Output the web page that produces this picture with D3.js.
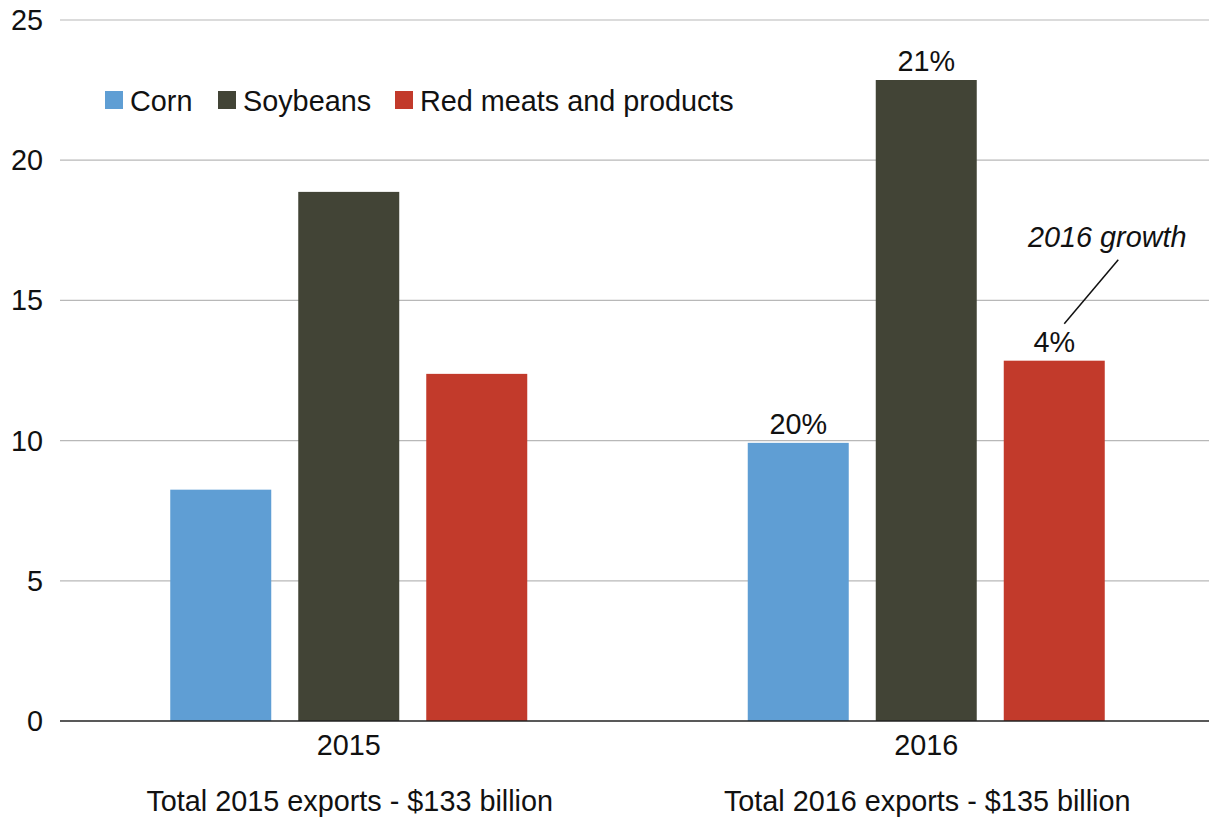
<!DOCTYPE html>
<html><head><meta charset="utf-8">
<script src="https://cdn.jsdelivr.net/npm/d3@7"></script>
<style>body{margin:0;background:#fff}svg{display:block;font-family:"Liberation Sans",Arial,sans-serif}</style>
</head><body><svg id="c" width="1209" height="821"></svg>
<script>
const years = ["2015", "2016"];
const series = ["Corn", "Soybeans", "Red meats and products"];
const corn = [8.25, 9.92];
const soybeans = [18.87, 22.86];
const redMeats = [12.38, 12.85];
const growth2016 = ["20%", "21%", "4%"];
const totals = ["Total 2015 exports - $133 billion", "Total 2016 exports - $135 billion"];
const yTicks = [0, 5, 10, 15, 20, 25];
const colors = ["#5f9ed4", "#424436", "#c23a2b"];

const values = [corn, soybeans, redMeats];
const FS = 28.8;
const svg = d3.select("#c");
const y = d3.scaleLinear().domain([0, 25]).range([721, 20]);
const x0 = d3.scaleBand().domain(years).range([60, 1215]).padding(0);
const x1 = d3.scaleBand().domain(series).range([-178.5, 178.5]).paddingInner(0.211).paddingOuter(0);

// grid
svg.append("g").selectAll("line").data(yTicks.filter(d => d > 0)).join("line")
  .attr("x1", 60).attr("x2", 1209).attr("y1", d => y(d)).attr("y2", d => y(d))
  .attr("stroke", "#b8b8b8").attr("stroke-width", 1.2);

// y labels
svg.append("g").selectAll("text").data(yTicks).join("text")
  .attr("x", 43).attr("y", d => y(d) + 10).attr("text-anchor", "end")
  .attr("font-size", FS).attr("fill", "#111").text(d => d);

// bars
years.forEach((yr, i) => {
  const cx = x0(yr) + x0.bandwidth() / 2;
  const g = svg.append("g").attr("transform", `translate(${cx},0)`);
  g.selectAll("rect").data(series).join("rect")
    .attr("x", s => x1(s)).attr("width", x1.bandwidth())
    .attr("y", (s, j) => y(values[j][i])).attr("height", (s, j) => y(0) - y(values[j][i]))
    .attr("fill", (s, j) => colors[j]);
  if (yr === "2016") {
    g.selectAll("text.pct").data(series).join("text").attr("class", "pct")
      .attr("x", s => x1(s) + x1.bandwidth() / 2)
      .attr("y", (s, j) => y(values[j][i]) - 9)
      .attr("text-anchor", "middle").attr("font-size", FS).attr("fill", "#111")
      .text((s, j) => growth2016[j]);
  }
  svg.append("text").attr("x", cx).attr("y", 755)
    .attr("text-anchor", "middle").attr("font-size", FS).attr("fill", "#111").text(yr);
  svg.append("text").attr("x", cx + 1).attr("y", 811)
    .attr("text-anchor", "middle").attr("font-size", FS).attr("fill", "#111").text(totals[i]);
});

// baseline axis
svg.append("line").attr("x1", 60).attr("x2", 1209).attr("y1", y(0)).attr("y2", y(0))
  .attr("stroke", "#222").attr("stroke-width", 1.5);

// annotation
const redX = x0("2016") + x0.bandwidth() / 2 + x1(series[2]) + x1.bandwidth() / 2;
svg.append("line").attr("x1", redX + 10).attr("y1", y(values[2][1]) - 37)
  .attr("x2", redX + 64).attr("y2", y(values[2][1]) - 101)
  .attr("stroke", "#111").attr("stroke-width", 1.5);
svg.append("text").attr("x", redX + 53).attr("y", 247).attr("text-anchor", "middle")
  .attr("font-size", FS).attr("font-style", "italic").attr("fill", "#111").text("2016 growth");

// legend
const legX = [105, 218, 395];
const leg = svg.append("g");
series.forEach((s, j) => {
  leg.append("rect").attr("x", legX[j]).attr("y", 91).attr("width", 18).attr("height", 18).attr("fill", colors[j]);
  leg.append("text").attr("x", legX[j] + 25).attr("y", 111).attr("font-size", FS).attr("fill", "#111").text(s);
});
</script></body></html>
